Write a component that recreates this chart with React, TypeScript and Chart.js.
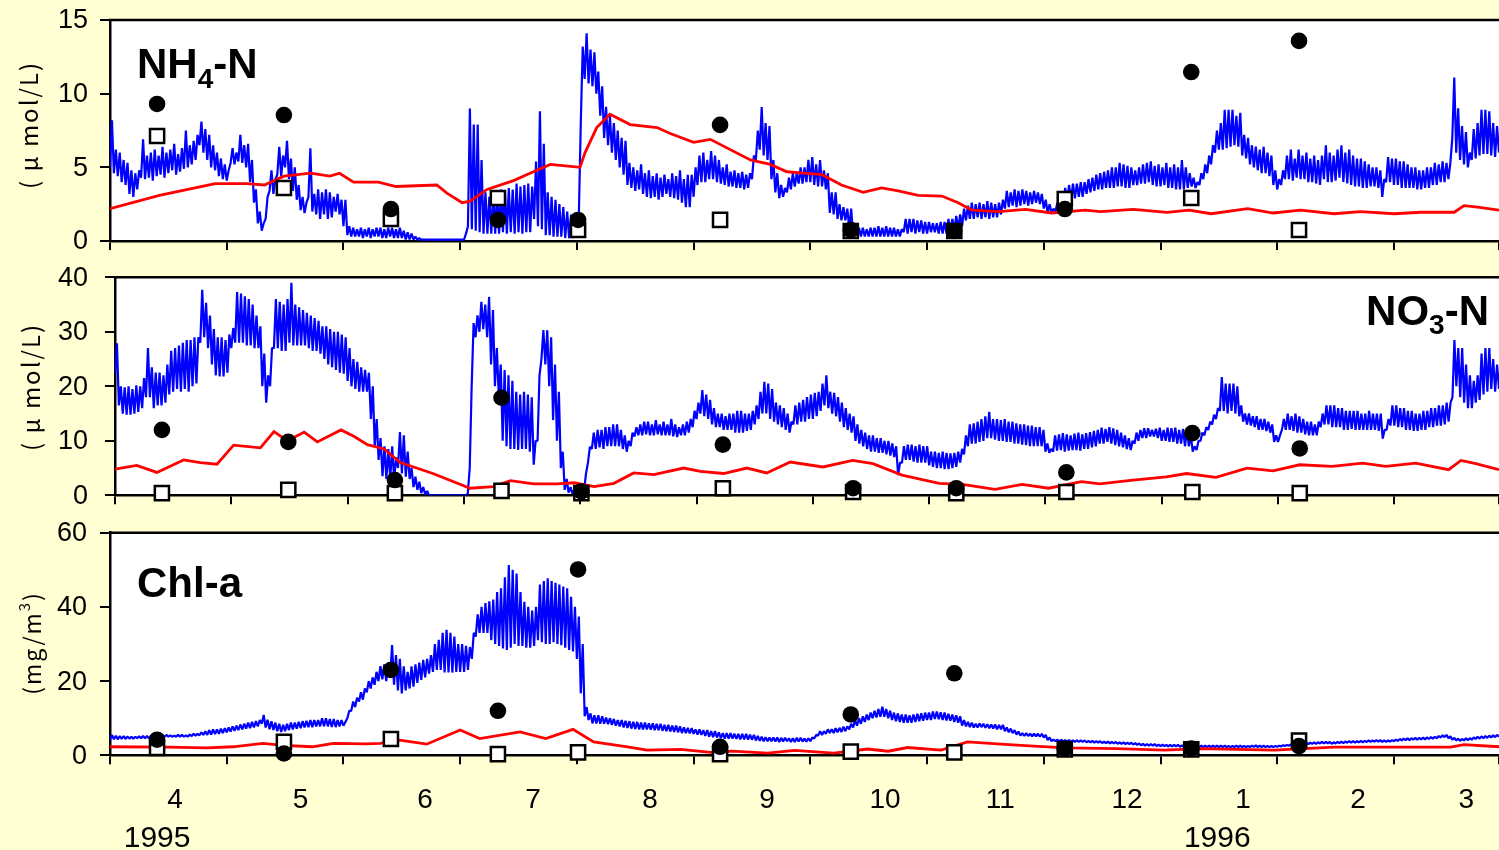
import React, { useEffect, useRef } from 'react';
import { Chart, registerables } from 'chart.js';

Chart.register(...registerables);

const PAGE_BG = '#FFFFD3';
const LATIN = '"Liberation Sans", Arial, sans-serif';
const CJK = '"Noto Sans CJK JP", "Noto Sans", sans-serif';
const WIDTH = 1499;
const X_MAX = 357; // days shown from the left edge of the record
const TICK_STEP = 30; // one tick per month

// Bottom axis text (month numbers and years), placed by day
const monthLabels = ['4', '5', '6', '7', '8', '9', '10', '11', '12', '1', '2', '3'];
const monthLabelDays = [16.7, 49, 81, 108.7, 138.8, 168.9, 199.2, 228.8, 261.4, 291.2, 320.8, 348.6];
const yearLabels = ['1995', '1996'];
const yearLabelDays = [12.1, 284.6];

// Field sampling dates (day)
const sampleDays = [12.1, 44.7, 72.2, 99.7, 120.3, 156.8, 190.4, 217.0, 245.4, 277.9, 305.6];

// Simulated series are stored as daily peak and daily trough values (day 0 .. 357).

// ---- NH4-N (µmol/L) ----
const nh4Filled = [9.3, 8.55, 2.17, 1.43, 1.43, 7.88, 0.75, 0.68, 2.17, 11.47, 13.58];
const nh4Open = [7.13, 3.6, 1.5, 2.92, 0.75, 1.43, 0.68, 0.68, 2.85, 2.92, 0.75];
const nh4Peaks = [
  8.2, 6.2, 6.0, 5.5, 5.3, 4.8, 4.6, 4.8, 6.9, 5.8,
  6.0, 6.2, 5.8, 6.4, 6.0, 6.2, 6.6, 5.9, 6.3, 7.5,
  6.5, 6.8, 7.2, 8.1, 7.6, 7.2, 6.5, 6.0, 5.6, 5.2,
  4.8, 6.3, 6.0, 7.2, 6.5, 6.6, 5.5, 3.5, 2.0, 1.2,
  3.0, 4.8, 4.2, 6.4, 5.8, 6.8, 5.6, 5.0, 3.8, 3.0,
  2.6, 6.3, 3.2, 3.5, 3.3, 3.5, 3.3, 3.0, 3.2, 2.8,
  2.8, 1.0, 0.9, 0.8, 0.9, 0.8, 0.9, 0.8, 0.9, 0.9,
  0.8, 0.9, 0.9, 0.8, 0.9, 0.7, 0.6, 0.5, 0.3, 0.2,
  0.1, 0.1, 0.1, 0.1, 0.1, 0.1, 0.1, 0.1, 0.1, 0.1,
  0.1, 0.5, 9.0, 7.9, 7.9, 5.5, 3.3, 3.0, 3.3, 3.3,
  3.5, 3.4, 3.6, 3.5, 3.9, 3.7, 3.8, 3.9, 3.7, 5.4,
  8.8, 6.6, 3.3, 3.0, 2.8, 2.5, 2.3, 2.0, 1.8, 1.7,
  1.7, 13.2, 14.1, 13.0, 12.8, 11.5, 10.5, 9.1, 8.5, 8.0,
  7.5, 7.0, 6.8, 5.3, 5.0, 4.8, 5.2, 4.6, 4.8, 4.4,
  4.6, 4.3, 4.5, 4.2, 4.6, 4.4, 4.8, 4.2, 4.5, 4.5,
  5.0, 5.8, 6.0, 5.5, 6.1, 5.8, 5.5, 5.0, 5.2, 4.7,
  4.8, 4.6, 4.7, 4.5, 4.6, 5.8, 7.5, 9.1, 8.0, 7.8,
  5.5, 4.6, 3.8, 3.6, 4.3, 4.6, 4.6, 5.0, 5.0, 5.5,
  5.7, 5.2, 5.5, 4.8, 4.6, 3.3, 3.3, 2.5, 2.3, 2.2,
  2.2, 0.9, 0.9, 0.9, 0.8, 0.9, 0.9, 1.0, 0.9, 1.0,
  0.9, 0.9, 0.8, 0.8, 1.5, 1.5, 1.5, 1.4, 1.4, 1.3,
  1.3, 1.2, 1.2, 1.3, 1.3, 1.5, 1.5, 1.7, 1.8, 2.2,
  2.4, 2.6, 2.5, 2.6, 2.5, 2.7, 2.6, 2.5, 2.6, 2.8,
  3.4, 3.3, 3.5, 3.4, 3.5, 3.4, 3.3, 3.4, 3.3, 3.2,
  2.8, 2.5, 2.2, 2.6, 3.0, 3.6, 3.8, 3.9, 3.9, 4.0,
  4.0, 4.2, 4.3, 4.5, 4.6, 4.7, 4.8, 5.0, 5.0, 5.3,
  5.2, 5.1, 5.0, 4.8, 5.0, 5.2, 5.3, 5.4, 5.1, 5.2,
  5.0, 5.3, 5.0, 5.2, 5.0, 5.5, 5.0, 4.6, 4.3, 4.0,
  4.6, 5.2, 5.8, 6.5, 7.5, 8.0, 8.9, 8.9, 8.9, 8.5,
  8.7, 7.2, 7.0, 6.5, 6.4, 6.2, 6.4, 6.0, 5.8, 4.8,
  4.2, 4.8, 5.8, 6.2, 5.6, 6.2, 5.8, 6.0, 5.6, 5.8,
  5.5, 5.8, 6.5, 6.0, 5.8, 6.2, 6.5, 6.0, 6.2, 5.8,
  5.6, 5.6, 5.4, 5.2, 5.0, 5.0, 4.8, 4.2, 5.7, 5.6,
  5.6, 5.4, 5.4, 5.2, 5.0, 5.0, 4.8, 4.8, 5.0, 5.0,
  5.3, 5.2, 5.4, 5.3, 5.3, 11.1, 9.0, 7.8, 7.4, 6.0,
  7.6, 8.0, 8.9, 8.9, 8.8, 8.0, 7.8, 7.0,
];
const nh4Troughs = [
  5.0, 4.6, 4.4, 4.0, 3.8, 3.2, 3.0, 3.5, 4.3, 4.2,
  4.3, 4.1, 4.4, 4.5, 4.3, 4.6, 4.8, 4.5, 4.7, 4.9,
  5.0, 5.2, 5.5, 6.5, 6.0, 5.5, 5.0, 4.8, 4.4, 4.2,
  4.1, 5.3, 5.2, 5.4, 5.3, 5.0, 4.0, 2.6, 1.2, 0.7,
  1.5, 3.4, 3.2, 4.5, 4.4, 5.0, 4.2, 3.4, 2.8, 2.1,
  1.9, 3.0, 2.0, 1.8, 1.5, 1.8, 1.5, 1.6, 2.0, 1.8,
  1.0, 0.4, 0.3, 0.3, 0.3, 0.2, 0.3, 0.2, 0.3, 0.3,
  0.2, 0.2, 0.3, 0.2, 0.2, 0.2, 0.1, 0.1, 0.1, 0.1,
  0.1, 0.1, 0.1, 0.1, 0.1, 0.1, 0.1, 0.1, 0.1, 0.1,
  0.1, 0.1, 1.0, 0.8, 0.7, 0.6, 0.5, 0.5, 0.5, 0.5,
  0.5, 0.6, 0.5, 0.6, 0.5, 0.6, 0.5, 0.6, 0.6, 1.5,
  1.0, 0.8, 0.4, 0.4, 0.3, 0.3, 0.3, 0.2, 0.2, 0.2,
  0.3, 8.0, 11.0, 10.7, 10.5, 10.0, 8.5, 7.0, 6.5, 6.0,
  5.5, 5.0, 4.5, 3.8, 3.6, 3.4, 3.5, 3.2, 3.0, 2.9,
  3.0, 2.8, 3.0, 3.2, 3.0, 2.9, 2.8, 2.6, 2.3, 2.3,
  3.0, 3.8, 4.0, 4.0, 4.2, 4.2, 4.0, 3.9, 3.8, 3.7,
  3.7, 3.6, 3.6, 3.5, 3.6, 4.2, 5.5, 6.2, 5.8, 5.5,
  4.2, 3.3, 2.9, 3.0, 3.3, 3.5, 3.7, 3.9, 3.9, 4.0,
  4.0, 3.8, 3.7, 3.7, 3.5, 1.9, 1.8, 1.5, 1.4, 1.4,
  0.9, 0.3, 0.3, 0.3, 0.3, 0.3, 0.3, 0.3, 0.3, 0.3,
  0.3, 0.3, 0.3, 0.3, 0.6, 0.5, 0.6, 0.5, 0.6, 0.5,
  0.5, 0.6, 0.6, 0.5, 0.5, 0.5, 0.6, 0.7, 0.8, 1.0,
  1.4, 1.5, 1.5, 1.6, 1.5, 1.6, 1.5, 1.6, 1.6, 1.8,
  2.2, 2.3, 2.4, 2.3, 2.4, 2.5, 2.4, 2.5, 2.6, 2.5,
  2.2, 1.9, 1.9, 2.0, 2.3, 2.5, 2.7, 2.8, 2.9, 3.0,
  3.0, 3.2, 3.3, 3.4, 3.5, 3.5, 3.6, 3.6, 3.6, 3.7,
  3.7, 3.6, 3.6, 3.8, 3.8, 3.9, 3.9, 4.0, 3.8, 3.7,
  3.7, 3.8, 3.6, 3.6, 3.5, 3.5, 3.5, 3.6, 3.7, 3.6,
  3.8, 4.2, 4.6, 5.2, 6.0, 6.2, 6.2, 6.3, 6.4, 6.5,
  6.4, 5.8, 5.6, 5.2, 5.0, 4.8, 4.6, 4.6, 4.4, 3.8,
  3.5, 3.8, 4.2, 4.2, 4.1, 4.3, 4.2, 4.2, 4.0, 4.0,
  3.9, 3.8, 4.2, 4.0, 4.0, 4.1, 4.3, 4.0, 3.9, 3.8,
  3.7, 3.7, 3.6, 3.6, 3.7, 3.7, 3.6, 3.0, 4.0, 4.0,
  3.8, 3.8, 3.6, 3.6, 3.6, 3.6, 3.5, 3.5, 3.6, 3.6,
  3.8, 3.8, 4.0, 4.0, 4.2, 7.0, 6.0, 5.5, 5.2, 5.0,
  5.5, 5.6, 5.8, 5.9, 5.9, 5.8, 5.7, 6.0,
];
const nh4Smooth = [
  [0, 2.2], [12.7, 3.1], [27, 3.9], [35, 3.9], [39.7, 3.8], [44.7, 4.4], [51.5, 4.6], [56.5, 4.4],
  [59, 4.6], [62.6, 4.0], [69, 4.0], [73.5, 3.7], [84, 3.8], [86.6, 3.25], [90.5, 2.6], [92.6, 2.7],
  [96.9, 3.5], [103.7, 4.1], [109.7, 4.8], [113.2, 5.2], [120.8, 5.0], [122.1, 6.0], [125.1, 7.7],
  [128.5, 8.6], [133.7, 7.9], [140.6, 7.7], [144, 7.3], [150, 6.7], [154.3, 6.9], [164.6, 5.5],
  [169.7, 5.2], [174, 4.7], [178.3, 4.6], [183, 4.5], [188, 3.8], [193.6, 3.3], [198.3, 3.6],
  [202.6, 3.4], [207.7, 3.1], [213.8, 3.05], [218, 2.6], [221.5, 2.1], [228.4, 2.0], [235.3, 2.15],
  [242, 1.9], [250.7, 2.1], [254.5, 2.0], [263, 2.15], [271.7, 1.95], [277.4, 2.1], [283, 1.85],
  [292.4, 2.2], [299, 1.9], [306, 2.1], [314.6, 1.85], [321.4, 2.0], [330, 1.85], [337, 1.95],
  [345.5, 1.95], [348, 2.4], [351.5, 2.3], [357, 2.1],
];

// ---- NO3-N (µmol/L) ----
const no3Filled = [12.0, 9.8, 2.8, 17.9, 0.7, 9.3, 1.3, 1.3, 4.2, 11.4, 8.6];
const no3Open = [0.4, 1.0, 0.4, 0.8, 0.4, 1.3, 0.6, 0.4, 0.6, 0.6, 0.4];
const no3Peaks = [
  27.9, 20.0, 19.8, 20.0, 19.5, 20.2, 20.0, 21.5, 27.0, 23.5,
  22.5, 22.5, 22.0, 24.0, 26.5, 27.0, 27.5, 28.0, 28.5, 28.5,
  29.0, 29.0, 37.7, 35.3, 33.0, 30.5, 29.0, 29.0, 28.5, 29.5,
  30.7, 37.3, 37.0, 36.5, 36.0, 35.0, 33.0, 31.0, 26.0, 22.0,
  27.0, 36.0, 35.5, 35.0, 36.0, 39.0, 35.0, 34.5, 34.0, 33.5,
  33.0, 32.5, 32.0, 31.0, 31.0, 30.5, 30.0, 30.0, 29.5, 29.0,
  27.0, 25.0, 24.5, 23.5, 23.0, 22.5, 20.0, 14.0, 10.5, 9.0,
  8.5, 9.0, 7.0, 11.6, 11.0, 8.0, 5.0, 3.4, 2.5, 1.5,
  0.8, 0, 0, 0, 0, 0, 0, 0, 0, 0,
  0, 5.0, 31.6, 33.0, 35.5, 35.0, 36.4, 34.0, 27.0, 24.0,
  23.0, 22.0, 21.0, 19.0, 18.5, 19.0, 18.5, 18.0, 10.0, 22.0,
  30.3, 30.3, 29.0, 24.0, 19.0, 8.0, 3.0, 1.5, 1.0, 1.2,
  1.0, 4.0, 8.9, 11.5, 12.0, 12.0, 12.5, 12.5, 13.0, 13.0,
  12.0, 11.0, 10.0, 11.5, 12.5, 13.0, 13.5, 13.5, 13.0, 13.8,
  13.0, 13.5, 13.0, 14.0, 13.0, 12.5, 13.0, 13.5, 14.0, 15.5,
  17.0, 19.3, 18.5, 17.5, 16.0, 15.0, 15.0, 14.5, 15.0, 15.0,
  15.5, 15.5, 15.0, 15.0, 15.5, 16.5, 19.0, 20.8, 20.5, 19.5,
  17.0, 16.5, 16.0, 15.0, 13.5, 16.5, 17.0, 17.5, 18.0, 18.5,
  18.8, 19.0, 20.5, 22.0, 19.0, 18.8, 18.0, 17.0, 16.0, 15.0,
  14.5, 13.0, 12.0, 11.5, 11.0, 11.0, 10.5, 10.5, 10.0, 10.0,
  9.5, 9.0, 6.0, 9.0, 9.3, 9.3, 9.0, 9.3, 9.0, 9.0,
  8.0, 8.0, 7.8, 8.0, 7.8, 7.7, 7.8, 8.0, 8.5, 11.0,
  13.0, 13.2, 13.5, 14.0, 14.5, 15.3, 14.0, 14.0, 13.8, 14.0,
  13.5, 13.5, 13.2, 13.0, 13.0, 12.8, 12.8, 12.5, 12.5, 12.0,
  9.5, 8.5, 11.0, 11.2, 11.4, 11.2, 11.0, 11.3, 11.5, 11.2,
  11.4, 11.6, 11.8, 12.0, 12.4, 12.2, 12.5, 12.3, 12.0, 11.5,
  11.0, 10.5, 10.0, 11.5, 12.0, 12.3, 12.3, 12.0, 12.2, 12.4,
  12.0, 12.4, 12.3, 12.4, 12.0, 12.2, 12.0, 11.0, 9.0, 10.0,
  11.5, 12.5, 13.5, 14.8, 16.0, 21.7, 20.5, 20.5, 20.5, 20.0,
  16.5, 15.0, 15.0, 14.5, 14.5, 14.0, 14.0, 13.5, 13.0, 11.0,
  11.0, 14.0, 15.0, 14.5, 15.0, 14.5, 14.0, 13.5, 13.5, 13.0,
  13.5, 15.0, 16.5, 16.5, 16.5, 16.0, 16.0, 15.5, 15.5, 15.5,
  15.5, 15.0, 15.0, 15.5, 15.0, 15.0, 15.0, 12.0, 14.0, 16.5,
  16.5, 16.0, 16.0, 15.5, 15.5, 15.0, 15.0, 15.5, 15.5, 16.0,
  16.0, 16.5, 16.5, 17.0, 17.0, 28.5, 27.0, 27.0, 24.0, 22.0,
  21.0, 22.0, 26.0, 27.0, 27.0, 25.0, 24.0, 23.0,
];
const no3Troughs = [
  22.4, 16.5, 15.0, 14.8, 14.8, 15.0, 15.3, 16.0, 18.0, 18.0,
  16.0, 16.5, 16.5, 17.0, 18.5, 19.0, 19.5, 19.0, 19.5, 19.0,
  20.0, 20.5, 28.0, 29.0, 27.0, 24.0, 22.0, 21.8, 21.8, 22.5,
  27.0, 28.0, 28.0, 28.0, 27.5, 27.5, 27.0, 27.0, 20.0, 17.0,
  20.0, 27.0, 27.0, 26.5, 26.5, 28.0, 27.5, 27.5, 27.5, 27.5,
  27.0, 26.5, 26.5, 26.0, 25.0, 24.0, 23.5, 23.0, 22.5, 22.3,
  21.0, 20.0, 19.5, 19.0, 19.0, 19.0, 14.0, 9.0, 6.5, 3.5,
  3.0, 3.0, 2.8, 5.0, 4.0, 3.4, 3.0, 1.5, 1.0, 0.4,
  0.2, 0, 0, 0, 0, 0, 0, 0, 0, 0,
  0, 0.3, 20.0, 29.0, 30.0, 30.5, 29.0, 24.0, 20.0, 18.0,
  10.0, 9.0, 8.5, 8.5, 8.3, 8.5, 8.5, 8.0, 5.6, 10.0,
  25.0, 24.0, 20.0, 13.8, 10.0, 5.0, 1.0, 0.5, 0.3, 0.3,
  0.3, 1.0, 6.0, 8.5, 8.5, 8.8, 8.5, 9.0, 9.0, 9.0,
  9.0, 8.5, 8.0, 9.0, 10.8, 11.0, 11.0, 11.2, 11.0, 11.0,
  11.2, 11.0, 11.0, 11.0, 10.8, 10.7, 11.0, 11.0, 11.5, 12.5,
  14.0, 15.0, 14.5, 14.0, 13.0, 12.5, 12.5, 12.0, 12.0, 12.0,
  11.5, 11.5, 11.5, 11.8, 12.0, 13.0, 14.0, 15.0, 15.0, 14.0,
  13.5, 13.0, 12.5, 12.0, 11.5, 13.0, 13.0, 13.5, 13.5, 14.0,
  14.0, 14.5, 15.5, 16.5, 16.0, 15.0, 14.5, 13.5, 12.5, 12.0,
  11.5, 10.0, 9.5, 9.0, 8.5, 8.0, 8.0, 7.8, 7.8, 7.5,
  7.3, 7.0, 3.7, 6.0, 6.5, 6.5, 6.2, 6.0, 6.0, 6.0,
  5.5, 5.2, 5.0, 5.0, 4.8, 4.8, 5.0, 5.2, 6.0, 7.5,
  9.0, 9.5, 9.5, 9.8, 10.0, 10.5, 10.5, 10.2, 10.0, 10.0,
  9.8, 9.8, 9.5, 9.5, 9.3, 9.2, 9.0, 9.0, 9.0, 9.0,
  8.0, 7.8, 8.0, 8.2, 8.3, 8.0, 8.2, 8.3, 8.3, 8.2,
  8.5, 8.5, 8.8, 9.0, 9.5, 9.5, 9.8, 9.5, 9.2, 9.0,
  8.8, 8.5, 8.3, 9.5, 10.0, 10.5, 10.5, 10.8, 10.8, 10.5,
  10.0, 10.0, 9.8, 9.8, 9.5, 9.5, 9.0, 9.0, 8.0, 8.3,
  10.0, 11.0, 12.0, 13.0, 14.0, 15.5, 15.5, 15.0, 15.5, 15.0,
  14.5, 13.5, 13.0, 12.8, 12.5, 12.0, 12.0, 11.8, 11.5, 9.8,
  9.8, 12.0, 12.0, 12.0, 11.8, 11.5, 11.5, 11.2, 11.0, 11.0,
  11.0, 12.5, 13.0, 13.0, 12.5, 12.5, 12.5, 12.0, 12.0, 12.2,
  12.0, 12.0, 12.0, 12.0, 12.0, 12.0, 11.8, 10.4, 12.0, 12.8,
  12.8, 12.5, 12.5, 12.0, 12.0, 11.8, 11.8, 12.0, 12.0, 12.5,
  12.5, 12.8, 12.8, 13.0, 13.5, 18.0, 20.0, 18.0, 17.0, 16.0,
  16.0, 17.0, 17.5, 18.5, 19.0, 19.5, 19.0, 19.5,
];
const no3Smooth = [
  [0, 4.8], [5.6, 5.5], [10.8, 4.2], [17.7, 6.5], [22, 6.0], [26.3, 5.7], [30.6, 9.2], [37.5, 8.7],
  [41, 11.7], [44.5, 10.0], [48.8, 11.6], [52.2, 9.8], [58.3, 12.0], [61.7, 10.8], [65.1, 9.3],
  [69.4, 8.5], [73.6, 6.0], [82, 4.0], [91.6, 1.3], [97.6, 1.6], [102, 2.7], [108, 2.1], [114, 2.1],
  [118.4, 2.3], [123.6, 1.6], [128.7, 2.2], [133.8, 4.1], [139, 3.8], [146.7, 5.0], [151, 4.4],
  [157, 4.0], [163, 5.0], [168.1, 4.1], [174.2, 6.1], [182.6, 5.2], [190.3, 6.4], [195.5, 5.8],
  [203, 3.7], [212.6, 2.2], [218.6, 2.0], [227, 1.1], [234, 2.0], [240.8, 1.3], [249.3, 2.5],
  [254, 2.1], [262.6, 2.8], [271.2, 3.4], [276.4, 4.0], [284, 3.3], [292, 5.0], [298.7, 4.5],
  [305.6, 5.6], [314, 5.3], [321.8, 5.9], [327.8, 5.3], [335.5, 5.9], [344, 4.7], [347.2, 6.4],
  [351, 5.8], [357, 4.7],
];

// ---- Chl-a (mg/m3) ----
const chlFilled = [4.2, 0.5, 23.0, 12.0, 50.1, 2.3, 11.0, 22.1, 1.8, 1.8, 2.5];
const chlOpen = [2.0, 3.6, 4.4, 0.3, 0.8, 0.3, 1.0, 0.8, 1.6, 1.6, 4.0];
const chlPeaks = [
  5.5, 5.3, 5.2, 5.2, 5.1, 5.0, 5.0, 5.1, 5.2, 5.2,
  5.3, 5.3, 5.2, 5.5, 5.5, 5.4, 5.3, 5.5, 5.5, 5.4,
  5.6, 5.8, 5.8, 6.2, 6.5, 6.8, 7.0, 7.0, 7.2, 7.3,
  7.5, 7.8, 8.0, 8.3, 8.5, 8.8, 9.0, 9.2, 9.5, 10.9,
  9.6, 9.2, 8.8, 8.5, 8.2, 8.5, 8.8, 8.8, 9.0, 9.2,
  9.3, 9.5, 9.5, 9.5, 10.0, 10.0, 9.8, 9.8, 9.5, 9.5,
  9.0, 12.0, 14.5, 15.5, 17.0, 18.0, 20.0, 21.0, 22.5, 24.0,
  24.5, 25.0, 29.7, 27.0, 26.0, 24.0, 22.5, 24.0, 24.5, 25.0,
  25.7, 26.0, 27.0, 30.0, 31.1, 33.0, 33.8, 33.0, 32.0, 30.0,
  30.0, 29.5, 29.2, 33.0, 38.0, 40.0, 41.0, 41.5, 42.0, 44.0,
  45.0, 48.0, 51.3, 50.0, 49.0, 44.0, 41.4, 40.0, 39.0, 40.0,
  46.0, 47.0, 47.7, 47.0, 46.5, 46.0, 45.5, 45.0, 42.7, 40.0,
  37.4, 30.0, 13.0, 11.3, 10.8, 10.8, 10.5, 10.2, 10.0, 9.8,
  9.5, 9.5, 9.3, 9.2, 9.0, 9.0, 8.8, 8.8, 8.6, 8.6,
  8.5, 8.5, 8.2, 8.2, 8.0, 8.0, 7.8, 7.5, 7.4, 7.3,
  7.0, 7.0, 6.8, 6.8, 6.5, 6.5, 6.2, 6.0, 6.0, 6.0,
  5.8, 5.8, 5.8, 5.8, 5.6, 5.5, 5.2, 5.0, 4.9, 4.8,
  4.8, 4.8, 4.7, 4.7, 4.6, 4.6, 4.7, 4.7, 4.5, 4.6,
  4.8, 5.5, 6.5, 6.5, 7.0, 7.0, 7.3, 7.4, 7.7, 7.8,
  8.5, 9.5, 10.0, 10.5, 11.0, 11.5, 12.0, 12.5, 13.1, 12.5,
  12.0, 11.5, 11.3, 11.0, 11.0, 10.8, 11.0, 11.2, 11.3, 11.5,
  11.5, 11.8, 11.8, 11.6, 11.5, 11.2, 11.0, 10.8, 10.5, 9.5,
  9.0, 8.8, 8.5, 8.6, 8.5, 8.4, 8.3, 8.3, 8.2, 8.2,
  7.5, 7.2, 6.8, 6.4, 6.0, 6.0, 5.8, 5.8, 5.8, 5.8,
  5.5, 4.8, 4.2, 4.2, 4.2, 4.1, 4.1, 4.0, 4.0, 4.0,
  4.0, 3.9, 3.9, 3.8, 3.8, 3.7, 3.7, 3.6, 3.6, 3.5,
  3.5, 3.4, 3.4, 3.3, 3.2, 3.1, 3.0, 3.0, 3.0, 2.9,
  2.9, 2.8, 2.8, 2.8, 2.8, 2.7, 2.7, 2.7, 2.7, 2.6,
  2.6, 2.6, 2.6, 2.6, 2.6, 2.6, 2.6, 2.5, 2.5, 2.6,
  2.6, 2.5, 2.5, 2.6, 2.7, 2.6, 2.6, 2.5, 2.5, 2.5,
  2.6, 2.7, 2.8, 2.9, 3.0, 3.2, 3.3, 3.4, 3.4, 3.5,
  3.5, 3.6, 3.6, 3.6, 3.5, 3.6, 3.7, 3.7, 3.8, 3.8,
  3.8, 3.9, 3.9, 4.0, 4.0, 4.1, 4.1, 4.0, 4.0, 4.1,
  4.2, 4.4, 4.5, 4.6, 4.6, 4.7, 4.7, 4.8, 4.8, 4.9,
  5.0, 5.2, 5.4, 5.5, 5.1, 4.7, 4.5, 4.4, 4.6, 4.6,
  4.8, 5.0, 5.1, 5.2, 5.3, 5.4, 5.5, 5.6,
];
const chlTroughs = [
  4.2, 4.3, 4.3, 4.4, 4.4, 4.5, 4.5, 4.6, 4.6, 4.6,
  4.6, 4.6, 4.8, 4.9, 4.9, 5.0, 5.0, 5.0, 5.0, 5.0,
  5.0, 5.2, 5.3, 5.4, 5.5, 5.5, 5.6, 5.7, 5.8, 6.0,
  6.2, 6.4, 6.6, 6.8, 7.0, 7.2, 7.3, 7.5, 7.8, 8.5,
  7.5, 7.0, 6.8, 6.5, 6.3, 6.5, 6.8, 7.0, 7.2, 7.3,
  7.5, 7.6, 7.6, 7.8, 7.8, 7.8, 7.8, 7.6, 7.6, 7.8,
  8.0, 10.0, 12.0, 13.0, 14.5, 15.0, 17.0, 18.0, 19.0, 20.0,
  20.5, 20.0, 21.0, 19.0, 17.5, 16.7, 17.5, 18.0, 18.5, 19.5,
  20.3, 21.0, 22.0, 22.5, 23.0, 23.0, 22.3, 22.3, 22.3, 22.5,
  22.5, 22.5, 23.0, 26.0, 32.0, 33.0, 33.0, 33.0, 31.0, 30.0,
  29.5, 28.8, 28.4, 29.0, 30.0, 29.5, 29.5, 29.0, 29.0, 29.5,
  31.0, 30.5, 30.0, 30.0, 30.5, 30.0, 29.7, 29.0, 28.4, 28.0,
  26.0, 16.7, 10.5, 9.5, 8.6, 8.6, 8.5, 8.5, 8.4, 8.2,
  8.0, 7.8, 7.5, 7.4, 7.2, 7.1, 7.0, 7.0, 7.0, 6.9,
  6.8, 6.8, 6.6, 6.5, 6.4, 6.3, 6.2, 6.0, 6.0, 5.9,
  5.8, 5.6, 5.5, 5.2, 5.0, 4.9, 4.8, 4.6, 4.5, 4.5,
  4.5, 4.4, 4.3, 4.3, 4.2, 4.2, 4.0, 3.9, 3.8, 3.8,
  3.8, 3.7, 3.6, 3.7, 3.8, 3.6, 3.6, 3.7, 3.7, 3.7,
  3.8, 4.5, 5.3, 5.5, 5.8, 6.0, 6.0, 6.2, 6.3, 6.5,
  7.0, 7.5, 8.0, 8.5, 9.0, 9.5, 10.0, 10.2, 10.4, 10.4,
  10.0, 9.5, 9.2, 9.0, 8.8, 8.8, 8.8, 9.0, 9.2, 9.3,
  9.5, 9.5, 9.8, 9.7, 9.5, 9.4, 9.3, 9.0, 8.8, 8.0,
  7.8, 7.6, 7.5, 7.5, 7.6, 7.4, 7.3, 7.2, 7.0, 7.0,
  6.5, 6.2, 6.0, 5.6, 5.3, 5.2, 5.2, 5.1, 5.1, 5.0,
  4.8, 4.1, 3.8, 3.8, 3.7, 3.7, 3.7, 3.6, 3.6, 3.6,
  3.6, 3.5, 3.5, 3.4, 3.4, 3.3, 3.3, 3.2, 3.2, 3.1,
  3.1, 3.0, 3.0, 2.9, 2.8, 2.7, 2.6, 2.6, 2.6, 2.5,
  2.5, 2.5, 2.4, 2.4, 2.4, 2.3, 2.3, 2.3, 2.3, 2.2,
  2.2, 2.2, 2.2, 2.2, 2.2, 2.2, 2.2, 2.2, 2.2, 2.2,
  2.2, 2.2, 2.2, 2.2, 2.3, 2.2, 2.2, 2.2, 2.2, 2.2,
  2.3, 2.4, 2.5, 2.6, 2.7, 2.8, 2.9, 3.0, 3.0, 3.1,
  3.1, 3.2, 3.2, 3.2, 3.1, 3.2, 3.3, 3.3, 3.4, 3.4,
  3.4, 3.5, 3.5, 3.6, 3.6, 3.7, 3.7, 3.6, 3.6, 3.7,
  3.8, 3.9, 4.0, 4.1, 4.1, 4.2, 4.2, 4.3, 4.3, 4.4,
  4.5, 4.6, 4.8, 4.9, 4.6, 4.2, 4.0, 3.9, 4.0, 4.1,
  4.2, 4.4, 4.5, 4.6, 4.7, 4.8, 4.9, 5.0,
];
const chlSmooth = [
  [0, 2.3], [14.6, 2.2], [25, 2.0], [31.6, 2.3], [39.3, 3.2], [44.5, 2.7], [52, 2.3], [57.4, 3.2],
  [66, 3.1], [69.4, 3.2], [74.5, 4.1], [81.4, 3.0], [90, 6.8], [95, 4.5], [105.4, 6.3], [112, 4.5],
  [119, 7.0], [124.3, 3.6], [133, 2.3], [138, 1.4], [146.6, 1.6], [154.4, 0.8], [160, 1.1],
  [169, 0.6], [176, 1.3], [186, 0.6], [194.7, 1.7], [200, 1.1], [205, 2.1], [213.6, 1.4],
  [220.4, 3.6], [229, 3.0], [237.4, 2.5], [246, 2.0], [258.8, 1.8], [271, 1.4], [280.3, 1.8],
  [299.2, 1.4], [314.6, 2.2], [331.7, 2.2], [344.6, 2.2], [348, 2.9], [357, 2.3],
];

// ---------------------------------------------------------------------------

type Run = { text: string; size?: number; shift?: number };

function drawRuns(ctx: CanvasRenderingContext2D, runs: Run[], x: number, baseline: number,
  size: number, family: string, weight: string, align: 'left' | 'right', spacing = 0) {
  const fontOf = (s: number) => `${weight} ${s}px ${family}`;
  (ctx as any).letterSpacing = `${spacing}px`;
  const widths = runs.map((r) => { ctx.font = fontOf(r.size ?? size); return ctx.measureText(r.text).width; });
  const total = widths.reduce((a, b) => a + b, 0);
  let cx = align === 'right' ? x - total : x;
  ctx.textAlign = 'left';
  ctx.textBaseline = 'alphabetic';
  runs.forEach((r, i) => {
    ctx.font = fontOf(r.size ?? size);
    ctx.fillText(r.text, cx, baseline + (r.shift ?? 0));
    cx += widths[i];
  });
  (ctx as any).letterSpacing = '0px';
  return total;
}

function drawVertical(ctx: CanvasRenderingContext2D, runs: Run[], cx: number, cy: number,
  size: number, family: string, spacing: number) {
  ctx.save();
  ctx.translate(cx, cy);
  ctx.rotate(-Math.PI / 2);
  (ctx as any).letterSpacing = `${spacing}px`;
  const widths = runs.map((r) => { ctx.font = `normal ${r.size ?? size}px ${family}`; return ctx.measureText(r.text).width; });
  const total = widths.reduce((a, b) => a + b, 0);
  drawRuns(ctx, runs, -total / 2, size * 0.36, size, family, 'normal', 'left', spacing);
  ctx.restore();
}

type PanelSpec = {
  top: number;
  height: number;
  yAxisWidth: number;
  padTop: number;
  xAxisHeight: number;
  labelPad: number;
  yMax: number;
  yStep: number;
  peaks: number[];
  troughs: number[];
  smooth: number[][];
  filled: number[];
  open: number[];
  decorate: (ctx: CanvasRenderingContext2D, chart: Chart) => void;
};

const panels: PanelSpec[] = [
  {
    top: 0, height: 262, yAxisWidth: 110, padTop: 20, xAxisHeight: 21, labelPad: 12,
    yMax: 15, yStep: 5, peaks: nh4Peaks, troughs: nh4Troughs, smooth: nh4Smooth, filled: nh4Filled, open: nh4Open,
    decorate: (ctx) => {
      drawRuns(ctx, [{ text: 'NH' }, { text: '4', size: 28, shift: 10 }, { text: '-N' }], 137, 78, 42, LATIN, 'bold', 'left');
      drawVertical(ctx, [{ text: '( μ mol/L)' }], 29, 125, 24, CJK, 2);
    },
  },
  {
    top: 262, height: 255, yAxisWidth: 115, padTop: 15.3, xAxisHeight: 21.7, labelPad: 17,
    yMax: 40, yStep: 10, peaks: no3Peaks, troughs: no3Troughs, smooth: no3Smooth, filled: no3Filled, open: no3Open,
    decorate: (ctx) => {
      drawRuns(ctx, [{ text: 'NO' }, { text: '3', size: 28, shift: 9 }, { text: '-N' }], 1489, 63, 42, LATIN, 'bold', 'right');
      drawVertical(ctx, [{ text: '( μ mol/L)' }], 31, 125, 24, CJK, 2);
    },
  },
  {
    top: 517, height: 333, yAxisWidth: 110, padTop: 15.7, xAxisHeight: 94.7, labelPad: 13,
    yMax: 60, yStep: 20, peaks: chlPeaks, troughs: chlTroughs, smooth: chlSmooth, filled: chlFilled, open: chlOpen,
    decorate: (ctx, chart) => {
      drawRuns(ctx, [{ text: 'Chl-a' }], 137, 80, 42, LATIN, 'bold', 'left');
      drawVertical(ctx, [{ text: '(mg/m' }, { text: '3', size: 15, shift: -11 }, { text: ')' }], 33, 126, 23, CJK, 2);
      const xs = chart.scales.x;
      ctx.fillStyle = '#000';
      ctx.textAlign = 'center';
      ctx.textBaseline = 'alphabetic';
      ctx.font = `28px ${LATIN}`;
      monthLabels.forEach((t, i) => ctx.fillText(t, xs.getPixelForValue(monthLabelDays[i]), 291));
      ctx.font = `30px ${LATIN}`;
      yearLabels.forEach((t, i) => ctx.fillText(t, xs.getPixelForValue(yearLabelDays[i]), 330));
    },
  },
];

// trough at the start of each day, peak half a day later
const tidal = (peaks: number[], troughs: number[]) =>
  troughs.flatMap((lo, d) => [{ x: d, y: lo }, { x: d + 0.5, y: peaks[d] }]);
const pairs = (pts: number[][]) => pts.map(([x, y]) => ({ x, y }));
const samples = (values: number[]) => values.map((y, i) => ({ x: sampleDays[i], y }));

function buildConfig(spec: PanelSpec): any {
  const decor = {
    id: 'panelDecor',
    beforeDraw(chart: Chart) {
      const { ctx, chartArea: a } = chart;
      ctx.save();
      ctx.fillStyle = '#FFFFFF';
      ctx.fillRect(a.left, a.top, a.right - a.left, a.bottom - a.top);
      ctx.restore();
    },
    afterDraw(chart: Chart) {
      const { ctx, chartArea: a } = chart;
      ctx.save();
      ctx.strokeStyle = '#000';
      ctx.lineWidth = 2.5;
      ctx.beginPath();
      ctx.moveTo(a.left - 1.25, a.top);
      ctx.lineTo(a.right, a.top);
      ctx.stroke();
      ctx.fillStyle = '#000';
      // value labels of the y axis
      const ys = chart.scales.y;
      ctx.font = `27px ${LATIN}`;
      ctx.textAlign = 'right';
      ctx.textBaseline = 'middle';
      ys.ticks.forEach((t) => {
        ctx.fillText(String(t.value), a.left - 10 - spec.labelPad, ys.getPixelForValue(t.value) + 1);
      });
      spec.decorate(ctx, chart);
      ctx.restore();
    },
  };

  return {
    type: 'line',
    data: {
      datasets: [
        {
          type: 'scatter', data: samples(spec.filled), pointStyle: 'circle', pointRadius: 8.3,
          backgroundColor: '#000', borderColor: '#000', borderWidth: 0, clip: false, order: 0,
        },
        {
          type: 'scatter', data: samples(spec.open), pointStyle: 'rect', pointRadius: 10,
          backgroundColor: '#FFFFFF', borderColor: '#000', borderWidth: 2.5, clip: false, order: 1,
        },
        {
          type: 'line', data: pairs(spec.smooth), borderColor: '#FF0000', borderWidth: 2.8,
          pointRadius: 0, tension: 0, order: 2,
        },
        {
          type: 'line', data: tidal(spec.peaks, spec.troughs), borderColor: '#0000FF', borderWidth: 2.2,
          borderJoinStyle: 'bevel', pointRadius: 0, tension: 0, order: 3,
        },
      ],
    },
    options: {
      animation: false,
      responsive: false,
      maintainAspectRatio: false,
      events: [],
      layout: { autoPadding: false, padding: { top: spec.padTop, left: 0, right: 0, bottom: 0 } },
      plugins: { legend: { display: false }, tooltip: { enabled: false }, title: { display: false } },
      scales: {
        x: {
          type: 'linear', min: 0, max: X_MAX,
          afterFit: (s: any) => { s.height = spec.xAxisHeight; },
          ticks: { display: false, stepSize: TICK_STEP },
          grid: { drawOnChartArea: false, drawTicks: true, tickLength: 9, color: '#000', lineWidth: 2 },
          border: { display: true, color: '#000', width: 2.5 },
        },
        y: {
          type: 'linear', min: 0, max: spec.yMax,
          afterFit: (s: any) => { s.width = spec.yAxisWidth; },
          ticks: { display: false, stepSize: spec.yStep },
          grid: { drawOnChartArea: false, drawTicks: true, tickLength: 10, color: '#000', lineWidth: 2 },
          border: { display: true, color: '#000', width: 2.5 },
        },
      },
    },
    plugins: [decor],
  };
}

function PanelChart({ spec }: { spec: PanelSpec }) {
  const ref = useRef<HTMLCanvasElement>(null);
  useEffect(() => {
    const canvas = ref.current;
    if (!canvas) return;
    const chart = new Chart(canvas, buildConfig(spec));
    return () => chart.destroy();
  }, [spec]);
  return (
    <canvas
      ref={ref}
      width={WIDTH}
      height={spec.height}
      style={{ position: 'absolute', left: 0, top: spec.top, width: WIDTH, height: spec.height }}
    />
  );
}

export default function App() {
  return (
    <div style={{ position: 'absolute', left: 0, top: 0, width: WIDTH, height: 850, background: PAGE_BG, overflow: 'hidden' }}>
      {panels.map((p, i) => <PanelChart key={i} spec={p} />)}
    </div>
  );
}
